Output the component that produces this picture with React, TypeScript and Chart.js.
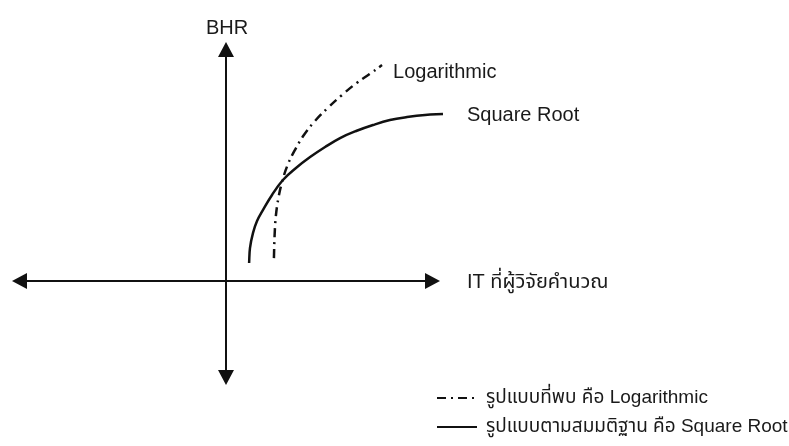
import React, { useEffect, useRef } from "react";
import { Chart, registerables } from "chart.js";

Chart.register(...registerables);

// Conceptual curves (arbitrary units; origin where the two axes cross)
const logX = [2.24, 2.27, 2.33, 2.45, 2.62, 2.88, 3.22, 3.64, 4.16, 4.77, 5.42, 6.1, 6.71, 7.29];
const logY = [1.07, 2.1, 3.04, 3.88, 4.63, 5.42, 6.12, 6.82, 7.48, 8.1, 8.69, 9.25, 9.67, 10.09];
const sqrtX = [1.08, 1.12, 1.26, 1.45, 1.73, 2.15, 2.66, 3.27, 3.93, 4.63, 5.33, 6.08, 6.87, 7.66, 8.46, 9.3, 10.14];
const sqrtY = [0.84, 1.54, 2.24, 2.8, 3.32, 4.02, 4.72, 5.28, 5.79, 6.26, 6.68, 7.01, 7.29, 7.52, 7.66, 7.76, 7.8];

// Axis extents (same units as the curves)
const xAxisRange = [-10, 10];
const yAxisRange = [-4.86, 11.17];

// Texts
const yAxisTitle = "BHR";
const xAxisTitle = "IT ที่ผู้วิจัยคำนวณ";
const seriesNames = ["Logarithmic", "Square Root"];
const legendTexts = [
  "รูปแบบที่พบ คือ Logarithmic",
  "รูปแบบตามสมมติฐาน คือ Square Root",
];

const W = 789;
const H = 446;
const INK = "#111";
const FAMILY = '"Liberation Sans", Arial, "Noto Sans Thai", sans-serif';
const FONT = "20px " + FAMILY;
const LEGEND_FONT = "19px " + FAMILY;
const DASH_DOT = [9, 5, 2, 5];

function arrowHead(
  ctx: CanvasRenderingContext2D,
  tx: number,
  ty: number,
  dx: number,
  dy: number
) {
  const len = 15;
  const half = 8;
  const bx = tx - dx * len;
  const by = ty - dy * len;
  const px = -dy;
  const py = dx;
  ctx.beginPath();
  ctx.moveTo(tx, ty);
  ctx.lineTo(bx + px * half, by + py * half);
  ctx.lineTo(bx - px * half, by - py * half);
  ctx.closePath();
  ctx.fill();
}

const diagramPlugin = {
  id: "diagram",
  beforeDatasetsDraw(chart: any) {
    const { ctx, scales } = chart;
    const xs = scales.x;
    const ys = scales.y;
    const ox = xs.getPixelForValue(0);
    const oy = ys.getPixelForValue(0);
    const xl = xs.getPixelForValue(xAxisRange[0]);
    const xr = xs.getPixelForValue(xAxisRange[1]);
    const yb = ys.getPixelForValue(yAxisRange[0]);
    const yt = ys.getPixelForValue(yAxisRange[1]);
    ctx.save();
    ctx.strokeStyle = INK;
    ctx.fillStyle = INK;
    ctx.lineWidth = 2;
    ctx.beginPath();
    ctx.moveTo(xl + 8, oy);
    ctx.lineTo(xr - 8, oy);
    ctx.moveTo(ox, yt + 8);
    ctx.lineTo(ox, yb - 8);
    ctx.stroke();
    arrowHead(ctx, xl, oy, -1, 0);
    arrowHead(ctx, xr, oy, 1, 0);
    arrowHead(ctx, ox, yt, 0, -1);
    arrowHead(ctx, ox, yb, 0, 1);
    ctx.restore();
  },
  afterDatasetsDraw(chart: any) {
    const { ctx, scales } = chart;
    const xs = scales.x;
    const ys = scales.y;
    const ox = xs.getPixelForValue(0);
    const oy = ys.getPixelForValue(0);
    const xr = xs.getPixelForValue(xAxisRange[1]);
    const yt = ys.getPixelForValue(yAxisRange[1]);
    ctx.save();
    ctx.fillStyle = "#1a1a1a";
    ctx.font = FONT;
    ctx.textBaseline = "alphabetic";

    // axis titles
    ctx.textAlign = "center";
    ctx.fillText(yAxisTitle, ox + 1, yt - 8);
    ctx.textAlign = "left";
    ctx.textBaseline = "middle";
    ctx.fillText(xAxisTitle, xr + 27, oy + 1);

    // curve end labels
    const lx = xs.getPixelForValue(logX[logX.length - 1]);
    const ly = ys.getPixelForValue(logY[logY.length - 1]);
    ctx.fillText(seriesNames[0], lx + 11, ly + 7);
    const sx = xs.getPixelForValue(sqrtX[sqrtX.length - 1]);
    const sy = ys.getPixelForValue(sqrtY[sqrtY.length - 1]);
    ctx.fillText(seriesNames[1], sx + 24, sy + 1);

    // legend
    const legX = 437;
    const legY = [398, 427];
    ctx.font = LEGEND_FONT;
    ctx.strokeStyle = INK;
    ctx.lineWidth = 2;
    legendTexts.forEach((t, i) => {
      ctx.setLineDash(i === 0 ? DASH_DOT : []);
      ctx.beginPath();
      ctx.moveTo(legX, legY[i]);
      ctx.lineTo(legX + 40, legY[i]);
      ctx.stroke();
      ctx.setLineDash([]);
      ctx.fillText(t, legX + 49, legY[i]);
    });
    ctx.restore();
  },
};

export default function App() {
  const ref = useRef<HTMLCanvasElement | null>(null);

  useEffect(() => {
    if (!ref.current) return;
    const pxPerUnit = 21.4;
    const originX = 226;
    const originY = 281;
    const chart = new Chart(ref.current, {
      type: "scatter",
      data: {
        datasets: [
          {
            label: seriesNames[0],
            data: logX.map((x, i) => ({ x, y: logY[i] })),
            showLine: true,
            borderColor: INK,
            borderWidth: 2.5,
            borderDash: DASH_DOT,
            pointRadius: 0,
            tension: 0.4,
          },
          {
            label: seriesNames[1],
            data: sqrtX.map((x, i) => ({ x, y: sqrtY[i] })),
            showLine: true,
            borderColor: INK,
            borderWidth: 2.5,
            pointRadius: 0,
            tension: 0.4,
          },
        ],
      },
      options: {
        responsive: false,
        animation: false,
        devicePixelRatio: 1,
        layout: { padding: 0 },
        plugins: {
          legend: { display: false },
          tooltip: { enabled: false },
        },
        scales: {
          x: {
            type: "linear",
            display: false,
            min: -originX / pxPerUnit,
            max: (W - originX) / pxPerUnit,
          },
          y: {
            type: "linear",
            display: false,
            min: -(H - originY) / pxPerUnit,
            max: originY / pxPerUnit,
          },
        },
      },
      plugins: [diagramPlugin],
    });
    return () => chart.destroy();
  }, []);

  return (
    <div
      style={{
        position: "fixed",
        left: 0,
        top: 0,
        width: W,
        height: H,
        background: "#fff",
      }}
    >
      <canvas ref={ref} width={W} height={H} />
    </div>
  );
}
